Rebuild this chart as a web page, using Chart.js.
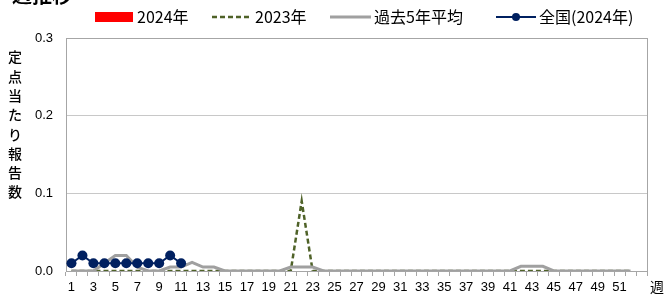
<!DOCTYPE html>
<html>
<head>
<meta charset="utf-8">
<script src="https://cdn.jsdelivr.net/npm/chart.js@4/dist/chart.umd.min.js"></script>
<style>
html,body{margin:0;padding:0;background:#fff;overflow:hidden;}
#wrap{position:relative;width:670px;height:297px;}
canvas{display:block;}
</style>
</head>
<body>
<div id="wrap"><canvas id="c" width="670" height="297"></canvas></div>
<script>
// ---- data ----
const weeks = ['1','2','3','4','5','6','7','8','9','10','11','12','13','14','15','16','17','18','19','20',
  '21','22','23','24','25','26','27','28','29','30','31','32','33','34','35','36','37','38','39','40',
  '41','42','43','44','45','46','47','48','49','50','51','52','53'];
const yTicks = [0, 0.1, 0.2, 0.3];
const data2024 = [0,0,0,0,0,0,0,0,0,0,0];
const data2023 = [0,0,0,0,0,0,0,0,0,0, 0,0,0,0,0,0,0,0,0,0,
  0,0.09,0,0,0,0,0,0,0,0, 0,0,0,0,0,0,0,0,0,0, 0,0,0,0,0,0,0,0,0,0, 0,0];
const avg5 = [0,0,0,0.01,0.02,0.02,0.005,0,0,0.005, 0.005,0.011,0.005,0.005,0,0,0,0,0,0,
  0.005,0.005,0.005,0,0,0,0,0,0,0, 0,0,0,0,0,0,0,0,0,0, 0,0.006,0.006,0.006,0,0,0,0,0,0, 0,0];
const national2024 = [0.01,0.02,0.01,0.01,0.01,0.01,0.01,0.01,0.01,0.02,0.01];
const seriesNames = ['2024年','2023年','過去5年平均','全国(2024年)'];
const yTitle = '定点当たり報告数';
const xTitle = '週';
const topTitle = '週推移';

const COL_RED = '#ff0000', COL_GREEN = '#4f6228', COL_GRAY = '#a0a0a0', COL_NAVY = '#002060';
const FONT_CJK = '"Noto Sans CJK JP","Noto Sans",sans-serif';
const FONT_NUM = '"Liberation Sans",Arial,sans-serif';

const decorations = {
  id: 'decorations',
  beforeDatasetsDraw(chart) {
    const {ctx, chartArea: a} = chart;
    ctx.save();
    ctx.strokeStyle = '#a6a6a6';
    ctx.lineWidth = 1;
    ctx.strokeRect(Math.round(a.left) + 0.5, Math.round(a.top) + 0.5,
      Math.round(a.right - a.left), Math.round(a.bottom - a.top));
    ctx.restore();
  },
  afterDraw(chart) {
    const ctx = chart.ctx;
    ctx.save();
    // clipped top title
    ctx.fillStyle = '#000';
    ctx.font = 'bold 20px ' + FONT_CJK;
    ctx.textBaseline = 'bottom';
    ctx.textAlign = 'left';
    ctx.fillText(topTitle, 12, 5);
    // y title, stacked characters
    ctx.font = '500 14px ' + FONT_CJK;
    ctx.textAlign = 'center';
    ctx.textBaseline = 'middle';
    [...yTitle].forEach((ch, i) => ctx.fillText(ch, 15, 57 + i * 19.3));
    // x title
    ctx.font = '14px ' + FONT_CJK;
    ctx.fillText(xTitle, 657, 287);
    // legend
    const ly = 17;
    ctx.textAlign = 'left';
    ctx.font = '16px ' + FONT_CJK;
    // 2024
    ctx.fillStyle = COL_RED;
    ctx.fillRect(95, ly - 5, 38, 10);
    ctx.fillStyle = '#000';
    ctx.fillText(seriesNames[0], 137, ly);
    // 2023
    ctx.strokeStyle = COL_GREEN; ctx.lineWidth = 2.5; ctx.setLineDash([5, 3]);
    ctx.beginPath(); ctx.moveTo(212, ly); ctx.lineTo(252, ly); ctx.stroke();
    ctx.setLineDash([]);
    ctx.fillText(seriesNames[1], 255, ly);
    // avg
    ctx.strokeStyle = COL_GRAY; ctx.lineWidth = 3;
    ctx.beginPath(); ctx.moveTo(330, ly); ctx.lineTo(371, ly); ctx.stroke();
    ctx.fillText(seriesNames[2], 374, ly);
    // national
    ctx.strokeStyle = COL_NAVY; ctx.lineWidth = 2;
    ctx.beginPath(); ctx.moveTo(496, ly); ctx.lineTo(536, ly); ctx.stroke();
    ctx.fillStyle = COL_NAVY;
    ctx.beginPath(); ctx.arc(516, ly, 4, 0, Math.PI * 2); ctx.fill();
    ctx.fillStyle = '#000';
    ctx.fillText(seriesNames[3], 539, ly);
    ctx.restore();
  }
};

new Chart(document.getElementById('c'), {
  type: 'bar',
  data: {
    labels: weeks,
    datasets: [
      {type: 'line', label: seriesNames[3], data: national2024, borderColor: COL_NAVY, backgroundColor: COL_NAVY,
        borderWidth: 2, pointRadius: 5, pointBackgroundColor: COL_NAVY, pointBorderWidth: 0, tension: 0, order: 0},
      {type: 'line', label: seriesNames[2], data: avg5, borderColor: COL_GRAY, borderWidth: 3,
        pointRadius: 0, tension: 0, order: 1},
      {type: 'line', label: seriesNames[1], data: data2023, borderColor: COL_GREEN, borderWidth: 2.5,
        borderDash: [5, 3], pointRadius: 0, tension: 0, order: 2},
      {type: 'bar', label: seriesNames[0], data: data2024, backgroundColor: COL_RED, borderWidth: 0, order: 3}
    ]
  },
  options: {
    responsive: false,
    animation: false,
    layout: {padding: {left: 0, right: 23, top: 38, bottom: 0}},
    plugins: {legend: {display: false}, title: {display: false}, tooltip: {enabled: false}},
    scales: {
      x: {
        offset: true,
        grid: {offset: true, drawOnChartArea: false, drawTicks: true, tickLength: 5, color: '#a6a6a6'},
        border: {display: true, color: '#a6a6a6'},
        ticks: {
          autoSkip: false, maxRotation: 0, minRotation: 0, padding: 4, color: '#000',
          font: {family: FONT_NUM, size: 13},
          callback: (v, i) => (i % 2 === 0 && i < 52) ? weeks[i] : ''
        },
        afterFit: s => { s.height = 26; }
      },
      y: {
        min: 0, max: 0.3,
        afterBuildTicks: s => { s.ticks = yTicks.map(v => ({value: v})); },
        grid: {drawTicks: false, color: '#c8c8c8'},
        border: {display: true, color: '#a6a6a6'},
        ticks: {padding: 13, color: '#000', font: {family: FONT_NUM, size: 13},
          callback: v => Number(v).toFixed(1)},
        afterFit: s => { s.width = 66; }
      }
    }
  },
  plugins: [decorations]
});
</script>
</body>
</html>
